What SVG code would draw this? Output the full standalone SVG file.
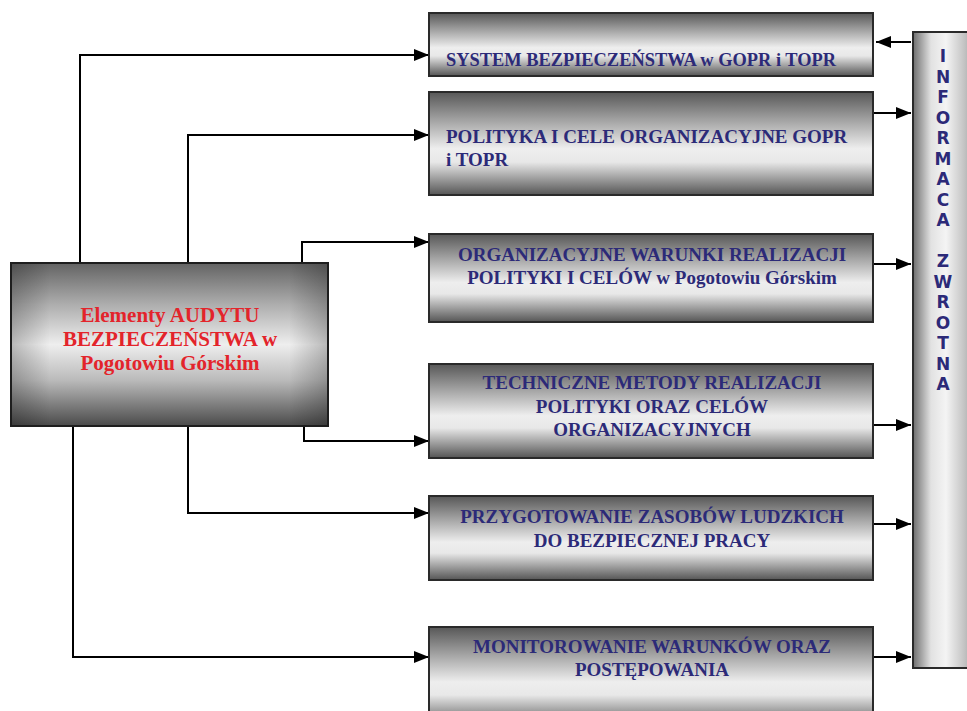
<svg xmlns="http://www.w3.org/2000/svg" width="967" height="711" viewBox="0 0 967 711">
<defs>
<linearGradient id="gBox" x1="0" y1="0" x2="0" y2="1">
<stop offset="0" stop-color="#575757"/>
<stop offset="0.3" stop-color="#aaaaaa"/>
<stop offset="0.55" stop-color="#eeeeee"/>
<stop offset="0.68" stop-color="#e8e8e8"/>
<stop offset="1" stop-color="#555555"/>
</linearGradient>
<linearGradient id="gLeft" x1="0" y1="0" x2="0" y2="1">
<stop offset="0" stop-color="#636363"/>
<stop offset="0.25" stop-color="#acacac"/>
<stop offset="0.5" stop-color="#eeeeee"/>
<stop offset="0.72" stop-color="#bababa"/>
<stop offset="1" stop-color="#4a4a4a"/>
</linearGradient>
<linearGradient id="gEdge" x1="0" y1="0" x2="1" y2="0">
<stop offset="0" stop-color="#000" stop-opacity="0.22"/>
<stop offset="0.12" stop-color="#000" stop-opacity="0"/>
<stop offset="0.88" stop-color="#000" stop-opacity="0"/>
<stop offset="1" stop-color="#000" stop-opacity="0.22"/>
</linearGradient>
<linearGradient id="gBar" x1="0" y1="0" x2="1" y2="0">
<stop offset="0" stop-color="#6e6e6e"/>
<stop offset="0.3" stop-color="#e2e2e2"/>
<stop offset="0.55" stop-color="#f4f4f4"/>
<stop offset="0.85" stop-color="#c4c4c4"/>
<stop offset="1" stop-color="#a8a8a8"/>
</linearGradient>
<marker id="arr" viewBox="0 0 15 12" refX="15" refY="6" markerWidth="15" markerHeight="12" markerUnits="userSpaceOnUse" orient="auto">
<path d="M0,0 L15,6 L0,12 Z" fill="#000"/>
</marker>
<style>
.box{fill:url(#gBox);stroke:#2a2a2a;stroke-width:2}
.t{font-family:"Liberation Serif","Times New Roman",serif;font-weight:bold;font-size:19px;fill:#2c2a78}
.tc{text-anchor:middle}
.red{font-family:"Liberation Serif","Times New Roman",serif;font-weight:bold;font-size:21px;fill:#e3242b;text-anchor:middle}
.v{font-family:"DejaVu Sans","Verdana",sans-serif;font-weight:bold;font-size:17px;fill:#2c2a78;text-anchor:middle}
.c{fill:none;stroke:#000;stroke-width:2;marker-end:url(#arr)}
</style>
</defs>
<rect width="967" height="711" fill="#fff"/>

<g id="connectors">
<path class="c" d="M80,263 V55 H429"/>
<path class="c" d="M188,263 V135 H429"/>
<path class="c" d="M302,263 V242 H429"/>
<path class="c" d="M304,426 V441 H429"/>
<path class="c" d="M188,426 V513 H429"/>
<path class="c" d="M73,426 V657 H429"/>
<path class="c" d="M911,42 H876"/>
<path class="c" d="M874,113 H911"/>
<path class="c" d="M874,264 H911"/>
<path class="c" d="M874,425 H911"/>
<path class="c" d="M874,524 H911"/>
<path class="c" d="M874,657 H911"/>
</g>

<g id="audit">
<rect x="11" y="263" width="317" height="163" fill="url(#gLeft)" stroke="#1e1e1e" stroke-width="2"/>
<rect x="12" y="264" width="315" height="161" fill="url(#gEdge)"/>
<text class="red" x="170" y="322">Elementy AUDYTU</text>
<text class="red" x="170" y="346">BEZPIECZEŃSTWA w</text>
<text class="red" x="170" y="370">Pogotowiu Górskim</text>
</g>

<g id="system">
<rect class="box" x="429" y="13" width="444" height="63"/>
<text class="t" x="446" y="66" textLength="390" lengthAdjust="spacingAndGlyphs">SYSTEM BEZPIECZEŃSTWA w GOPR i TOPR</text>
</g>

<g id="polityka">
<rect class="box" x="429" y="92" width="444" height="103"/>
<text class="t" x="446" y="143">POLITYKA I CELE ORGANIZACYJNE GOPR</text>
<text class="t" x="446" y="166">i TOPR</text>
</g>

<g id="warunki">
<rect class="box" x="429" y="234" width="444" height="88"/>
<text class="t tc" x="652" y="261">ORGANIZACYJNE WARUNKI REALIZACJI</text>
<text class="t tc" x="652" y="284">POLITYKI I CELÓW w Pogotowiu Górskim</text>
</g>

<g id="techniczne">
<rect class="box" x="429" y="364" width="444" height="94"/>
<text class="t tc" x="652" y="389">TECHNICZNE METODY REALIZACJI</text>
<text class="t tc" x="652" y="413">POLITYKI ORAZ CELÓW</text>
<text class="t tc" x="652" y="436">ORGANIZACYJNYCH</text>
</g>

<g id="przygotowanie">
<rect class="box" x="429" y="496" width="444" height="84"/>
<text class="t tc" x="652" y="523">PRZYGOTOWANIE ZASOBÓW LUDZKICH</text>
<text class="t tc" x="652" y="547">DO BEZPIECZNEJ PRACY</text>
</g>

<g id="monitorowanie">
<rect class="box" x="429" y="627" width="444" height="100"/>
<text class="t tc" x="652" y="653">MONITOROWANIE WARUNKÓW ORAZ</text>
<text class="t tc" x="652" y="676">POSTĘPOWANIA</text>
</g>

<g id="informacja">
<rect x="913" y="32" width="60" height="636" fill="url(#gBar)" stroke="#2a2a2a" stroke-width="2"/>
<text class="v" x="943" y="62">I</text>
<text class="v" x="943" y="83">N</text>
<text class="v" x="943" y="103">F</text>
<text class="v" x="943" y="124">O</text>
<text class="v" x="943" y="144">R</text>
<text class="v" x="943" y="165">M</text>
<text class="v" x="943" y="185">A</text>
<text class="v" x="943" y="206">C</text>
<text class="v" x="943" y="226">A</text>
<text class="v" x="943" y="267">Z</text>
<text class="v" x="943" y="288">W</text>
<text class="v" x="943" y="308">R</text>
<text class="v" x="943" y="329">O</text>
<text class="v" x="943" y="349">T</text>
<text class="v" x="943" y="370">N</text>
<text class="v" x="943" y="390">A</text>
</g>
</svg>
